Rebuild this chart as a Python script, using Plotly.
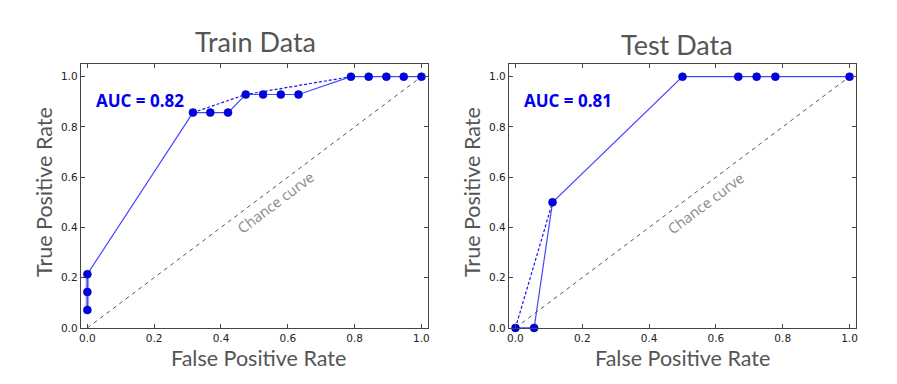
import plotly.graph_objects as go

# Train ROC
train_fpr = [0.0, 0.0, 0.0, 0.316, 0.368, 0.421, 0.474, 0.526, 0.579, 0.632, 0.789, 0.842, 0.895, 0.947, 1.0]
train_tpr = [0.071, 0.143, 0.214, 0.857, 0.857, 0.857, 0.929, 0.929, 0.929, 0.929, 1.0, 1.0, 1.0, 1.0, 1.0]
train_hull_fpr = [0.316, 0.474, 0.789]
train_hull_tpr = [0.857, 0.929, 1.0]
train_auc = "AUC = 0.82"

# Test ROC
test_fpr = [0.0, 0.056, 0.111, 0.5, 0.667, 0.722, 0.778, 1.0]
test_tpr = [0.0, 0.0, 0.5, 1.0, 1.0, 1.0, 1.0, 1.0]
test_hull_fpr = [0.0, 0.111]
test_hull_tpr = [0.0, 0.5]
test_auc = "AUC = 0.81"

chance = [0.0, 1.0]
tick_vals = [0.0, 0.2, 0.4, 0.6, 0.8, 1.0]
tick_text = ["0.0", "0.2", "0.4", "0.6", "0.8", "1.0"]

LINE = "rgb(70,70,255)"
MARK = "rgb(0,0,235)"

W, H = 897, 384
OFF = 8  # page body margin


def px(x):
    return (x - OFF) / W


def py(y):
    return 1 - (y - OFF) / H


fig = go.Figure()


def add_panel(fpr, tpr, hx, hy, xa, ya, vertical_thick):
    fig.add_trace(go.Scatter(x=chance, y=chance, mode="lines", xaxis=xa, yaxis=ya,
                             line=dict(color="#555", width=1, dash="4px,4px"), showlegend=False, hoverinfo="skip"))
    fig.add_trace(go.Scatter(x=hx, y=hy, mode="lines", xaxis=xa, yaxis=ya,
                             line=dict(color="rgb(20,20,240)", width=1.2, dash="3px,2px"), showlegend=False))
    if vertical_thick:
        fig.add_trace(go.Scatter(x=fpr[:3], y=tpr[:3], mode="lines", xaxis=xa, yaxis=ya,
                                 line=dict(color="rgba(70,70,255,0.55)", width=3.5), showlegend=False))
    fig.add_trace(go.Scatter(x=fpr, y=tpr, mode="lines+markers", xaxis=xa, yaxis=ya,
                             line=dict(color=LINE, width=1.2),
                             marker=dict(color=MARK, size=8, line=dict(color="rgb(0,0,120)", width=0.5)),
                             showlegend=False, cliponaxis=False))


add_panel(train_fpr, train_tpr, train_hull_fpr, train_hull_tpr, "x", "y", True)
add_panel(test_fpr, test_tpr, test_hull_fpr, test_hull_tpr, "x2", "y2", False)

axis_common = dict(range=[-0.02, 1.02], tickvals=tick_vals, ticktext=tick_text, ticks="inside", ticklen=4,
                   tickcolor="#444", showline=True, linecolor="#444", linewidth=1, mirror="allticks",
                   showgrid=False, zeroline=False, tickfont=dict(family="DejaVu Sans", size=10.5, color="#222"))
yaxis_common = dict(axis_common)
yaxis_common["range"] = [0, 1.05]

fig.update_layout(
    width=W, height=H, margin=dict(l=0, r=0, t=0, b=0),
    paper_bgcolor="white", plot_bgcolor="white",
    xaxis=dict(axis_common, domain=[px(79), px(428)], anchor="y"),
    yaxis=dict(yaxis_common, domain=[py(333), py(65)], anchor="x"),
    xaxis2=dict(axis_common, domain=[px(509), px(858)], anchor="y2"),
    yaxis2=dict(yaxis_common, domain=[py(333), py(65)], anchor="x2"),
)

ann = []
title_font = dict(family="Lato", size=27, color="#555")
lab_font = dict(family="Lato", size=21.5, color="#555")


def pa(text, x, y, font, angle=0):
    return dict(text=text, x=px(x), y=py(y), xref="paper", yref="paper", xanchor="center", yanchor="middle",
                showarrow=False, textangle=angle, font=font)


ann.append(pa("Train Data", 255, 42, title_font))
ann.append(pa("Test Data", 678, 45, title_font))
ann.append(pa("False Positive Rate", 258, 364, lab_font))
ann.append(pa("False Positive Rate", 684, 364, lab_font))
ann.append(pa("True Positive Rate", 42, 195, lab_font, -90))
ann.append(pa("True Positive Rate", 472, 195, lab_font, -90))
auc_font = dict(family="Open Sans", size=17, color="rgb(0,0,240)")
ann.append(dict(text="<b>" + train_auc + "</b>", x=0.02, y=0.905, xref="x", yref="y", xanchor="left",
                yanchor="middle", showarrow=False, font=auc_font))
ann.append(dict(text="<b>" + test_auc + "</b>", x=0.02, y=0.905, xref="x2", yref="y2", xanchor="left",
                yanchor="middle", showarrow=False, font=auc_font))
cfont = dict(family="Open Sans", size=14.5, color="#8a8a8a")
ann.append(dict(text="Chance curve", x=0.563, y=0.50, xref="x", yref="y", showarrow=False, textangle=-37,
                xanchor="center", yanchor="middle", font=cfont))
ann.append(dict(text="Chance curve", x=0.568, y=0.497, xref="x2", yref="y2", showarrow=False, textangle=-37,
                xanchor="center", yanchor="middle", font=cfont))
fig.update_layout(annotations=ann)

fig.write_html("out.html")
